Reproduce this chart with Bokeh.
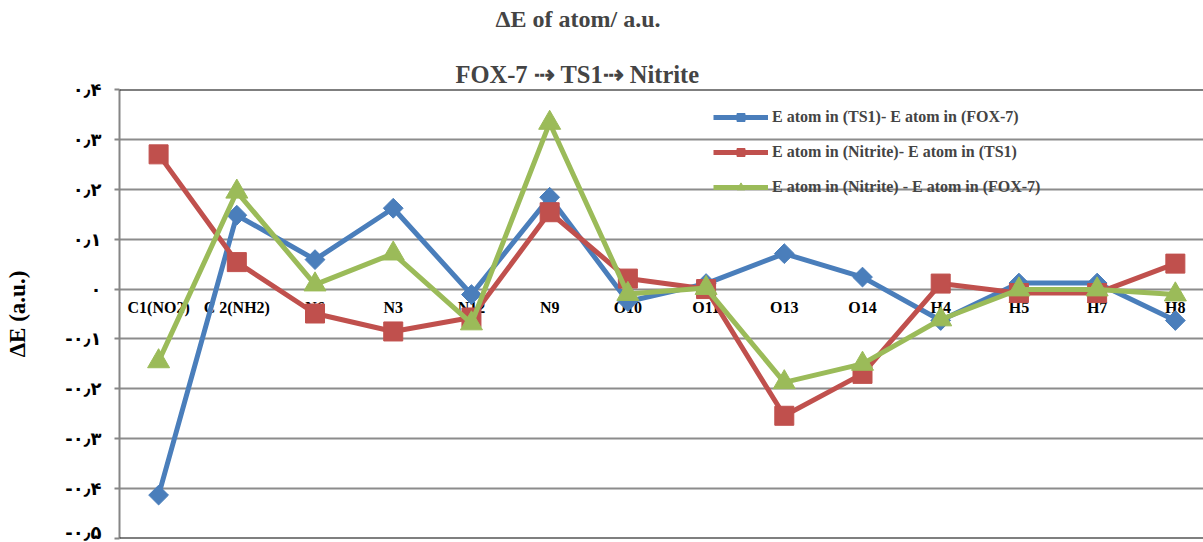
from bokeh.plotting import figure
from bokeh.models import Range1d, FixedTicker, Span, Legend, LegendItem, Title, ColumnDataSource
from bokeh.core.properties import value
from bokeh.embed import file_html
from bokeh.resources import INLINE
import math

categories = ["C1(NO2)", "C 2(NH2)", "N6", "N3", "N12", "N9", "O10", "O11",
              "O13", "O14", "H4", "H5", "H7", "H8"]
ts1_minus_fox7 = [-0.413, 0.148, 0.059, 0.162, -0.011, 0.184, -0.025, 0.011,
                  0.071, 0.024, -0.063, 0.012, 0.012, -0.063]
nitrite_minus_ts1 = [0.270, 0.054, -0.049, -0.085, -0.057, 0.154, 0.021, 0.000,
                     -0.254, -0.170, 0.011, -0.008, -0.008, 0.051]
nitrite_minus_fox7 = [-0.145, 0.195, 0.009, 0.071, -0.069, 0.333, -0.010, 0.002,
                      -0.187, -0.150, -0.061, -0.001, -0.001, -0.011]
series_names = ["E atom in (TS1)- E atom in (FOX-7)",
                "E atom in (Nitrite)- E atom in (TS1)",
                "E atom in (Nitrite) - E atom in (FOX-7)"]
y_ticks = [-0.5, -0.4, -0.3, -0.2, -0.1, 0, 0.1, 0.2, 0.3, 0.4]
y_tick_labels = ["-۰٫۵", "-۰٫۴", "-۰٫۳", "-۰٫۲", "-۰٫۱", "۰", "۰٫۱", "۰٫۲", "۰٫۳", "۰٫۴"]
title_text = "ΔE of atom/ a.u."
subtitle_text = "FOX-7 ⇢ TS1⇢ Nitrite"
y_label = "ΔE (a.u.)"

SERIF = value("Liberation Serif")
xs = list(range(len(categories)))

p = figure(width=1203, height=542, output_backend="svg", toolbar_location=None,
           x_range=Range1d(-0.5, 13.36), y_range=Range1d(y_ticks[0], y_ticks[-1]),
           x_axis_location=None, min_border_left=119, min_border_right=0,
           min_border_bottom=4, min_border_top=89)
p.background_fill_color = "white"
p.border_fill_color = "white"
p.outline_line_color = None
p.xgrid.visible = False
p.ygrid.grid_line_color = "#8c8c8c"
p.ygrid.grid_line_width = 2

ax = p.yaxis[0]
ax.ticker = FixedTicker(ticks=y_ticks, minor_ticks=[])
ax.major_label_overrides = {t: l for t, l in zip(y_ticks, y_tick_labels)}
ax.axis_line_color = "#868686"
ax.axis_line_width = 2
ax.major_tick_line_color = "#868686"
ax.major_tick_line_width = 2
ax.major_tick_out = 5
ax.major_tick_in = 0
ax.minor_tick_line_color = None
ax.major_label_text_font = "DejaVu Sans"
ax.major_label_text_font_style = "bold"
ax.major_label_text_font_size = "18px"
ax.major_label_text_color = "black"
ax.major_label_standoff = 13
ax.axis_label = y_label
ax.axis_label_text_font = "Liberation Serif"
ax.axis_label_text_font_style = "bold"
ax.axis_label_text_font_size = "23px"
ax.axis_label_text_color = "black"
ax.axis_label_standoff = 32

for loc in (y_ticks[0], y_ticks[-1]):
    p.add_layout(Span(location=loc, dimension="width", line_color="black", line_width=2))

# category labels on the zero line
p.text(x=xs, y=[0] * len(xs), text=categories, text_font=SERIF, text_font_style="bold",
       text_font_size="16px", text_align="center", text_baseline="top", y_offset=10,
       text_color="black")

colors = ["#4a7ebb", "#c0504d", "#9bbb59"]
data = [ts1_minus_fox7, nitrite_minus_ts1, nitrite_minus_fox7]
items = []
for name, ys, col, kind in zip(series_names, data, colors, ["diamond", "square", "triangle"]):
    src = ColumnDataSource(dict(x=xs, y=ys))
    ln = p.line("x", "y", source=src, line_color=col, line_width=5)
    if kind == "diamond":
        sc = p.scatter("x", "y", source=src, marker="square", size=14, angle=math.pi / 4,
                       fill_color=col, line_color=col)
    elif kind == "square":
        sc = p.scatter("x", "y", source=src, marker="square", size=19,
                       fill_color=col, line_color=col)
    else:
        sc = p.scatter("x", "y", source=src, marker="triangle", size=22,
                       fill_color=col, line_color=col)
    items.append(LegendItem(label=name, renderers=[ln, sc]))

legend = Legend(items=items, location=(594, 341), border_line_color=None,
                background_fill_alpha=0, padding=0, margin=0, spacing=15,
                glyph_width=55, glyph_height=20, label_height=20, label_standoff=4,
                label_text_font="Liberation Serif", label_text_font_style="bold",
                label_text_font_size="16px")
p.add_layout(legend)

p.add_layout(Title(text=subtitle_text, text_font="Liberation Serif", text_font_style="bold",
                   text_font_size="24.5px", align="left", offset=336, standoff=3), "above")
p.add_layout(Title(text=" ", text_font="Liberation Serif", text_font_size="1px",
                   align="left", standoff=21), "above")
p.add_layout(Title(text=title_text, text_font="Liberation Serif", text_font_style="bold",
                   text_font_size="24px", align="left", offset=376, standoff=3), "above")

open("out.html", "w").write(file_html(p, INLINE))
